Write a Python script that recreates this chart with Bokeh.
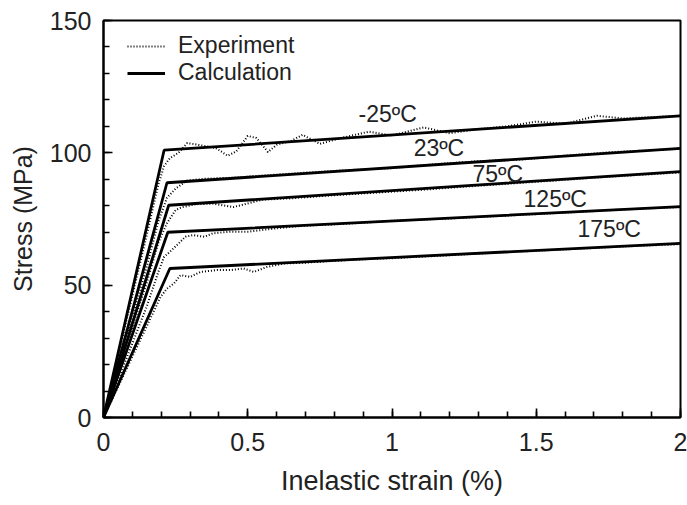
from bokeh.plotting import figure
from bokeh.models import Range1d, SingleIntervalTicker, Legend, LegendItem, Label
from bokeh.embed import file_html
from bokeh.resources import INLINE

# ---------------- data ----------------
temps = ["-25ºC", "23ºC", "75ºC", "125ºC", "175ºC"]

# calculation: bilinear (origin -> yield knee -> end at 2 %)
calc_x_m25 = [0, 0.21, 2.0]
calc_y_m25 = [0, 101.0, 114.0]
calc_x_23 = [0, 0.22, 2.0]
calc_y_23 = [0, 88.7, 101.7]
calc_x_75 = [0, 0.226, 2.0]
calc_y_75 = [0, 80.2, 92.9]
calc_x_125 = [0, 0.223, 2.0]
calc_y_125 = [0, 70.0, 79.7]
calc_x_175 = [0, 0.23, 2.0]
calc_y_175 = [0, 56.3, 65.8]

# experiment
exp_x_m25 = [0, 0.05, 0.10, 0.15, 0.19, 0.21, 0.23, 0.26, 0.29, 0.33, 0.39, 0.43, 0.46,
             0.50, 0.53, 0.57, 0.60, 0.65, 0.69, 0.75, 0.82, 0.92, 1.0, 1.11, 1.2, 1.3,
             1.4, 1.5, 1.6, 1.71, 1.8, 1.9, 2.0]
exp_y_m25 = [0, 23, 46, 69, 88, 95, 98, 100, 103.7, 103, 101.8, 98.9, 100.5,
             106.4, 105.6, 100.3, 103, 104.5, 106.8, 103.4, 105.5, 108, 106.5, 109.6, 107.4, 109,
             110, 111.8, 111, 114, 113, 113.5, 114]
exp_x_23 = [0, 0.05, 0.10, 0.15, 0.19, 0.22, 0.25, 0.29, 0.35, 0.45, 0.55, 0.7, 0.85, 1.0,
            1.15, 1.3, 1.45, 1.6, 1.75, 1.9, 2.0]
exp_y_23 = [0, 19, 38, 57, 74, 83, 86.5, 89.5, 90.2, 90.6, 91.4, 92.5, 93.5, 94.2,
            95.7, 96.8, 97.5, 98.9, 100.2, 101, 101.5]
exp_x_75 = [0, 0.05, 0.10, 0.15, 0.19, 0.22, 0.25, 0.27, 0.32, 0.38, 0.45, 0.55, 0.65, 0.8,
            0.95, 1.1, 1.25, 1.4, 1.55, 1.7, 1.85, 2.0]
exp_y_75 = [0, 17, 34, 51, 66, 73.4, 78.4, 79.4, 80.6, 80.8, 79.5, 82.3, 82.8, 84.0,
            85.0, 86.0, 87.2, 88.3, 89.4, 90.6, 91.6, 92.6]
exp_x_125 = [0, 0.05, 0.10, 0.15, 0.19, 0.21, 0.23, 0.255, 0.284, 0.31, 0.35, 0.38, 0.44,
             0.5, 0.6, 0.7, 0.8, 0.9, 1.0, 1.2, 1.4, 1.6, 1.8, 2.0]
exp_y_125 = [0, 14, 28, 42, 55, 60.7, 62.6, 65.2, 68.3, 68.9, 68.3, 69.6, 70.2,
             70.2, 71.5, 72.5, 73.0, 73.6, 74.3, 75.2, 76.3, 77.4, 78.6, 79.5]
exp_x_175 = [0, 0.05, 0.10, 0.15, 0.198, 0.22, 0.244, 0.267, 0.30, 0.336, 0.394, 0.44, 0.486,
             0.521, 0.567, 0.625, 0.7, 0.8, 0.9, 1.0, 1.2, 1.4, 1.6, 1.8, 2.0]
exp_y_175 = [0, 11.5, 23, 34.5, 45.6, 48.7, 50.6, 53.8, 53.1, 55, 55.7, 55.7, 56.3,
             55, 56.9, 58.2, 58.5, 59.2, 59.8, 60.2, 61.3, 62.5, 63.5, 64.6, 65.5]

# temperature label anchors (data coordinates)
label_x = [0.884, 1.075, 1.279, 1.456, 1.643]
label_y = [114.6, 101.7, 92.0, 82.6, 71.2]

x_ticks = [0, 0.5, 1, 1.5, 2]
x_tick_labels = ["0", "0.5", "1", "1.5", "2"]

calc_x = [calc_x_m25, calc_x_23, calc_x_75, calc_x_125, calc_x_175]
calc_y = [calc_y_m25, calc_y_23, calc_y_75, calc_y_125, calc_y_175]
exp_x = [exp_x_m25, exp_x_23, exp_x_75, exp_x_125, exp_x_175]
exp_y = [exp_y_m25, exp_y_23, exp_y_75, exp_y_125, exp_y_175]

FONT = "Liberation Sans"

p = figure(width=687, height=505, output_backend="svg", toolbar_location=None,
           x_range=Range1d(0, 2), y_range=Range1d(0, 150),
           min_border_left=103, min_border_right=7, min_border_top=20, min_border_bottom=88)
p.background_fill_color = "white"
p.border_fill_color = "white"
p.outline_line_color = "black"
p.outline_line_width = 2
p.xgrid.visible = False
p.ygrid.visible = False

exp_renderers = []
calc_renderers = []
for ex, ey in zip(exp_x, exp_y):
    r = p.line(ex, ey, line_color="black", line_width=2, line_dash="1 2")
    exp_renderers.append(r)
for cx, cy in zip(calc_x, calc_y):
    r = p.line(cx, cy, line_color="black", line_width=2.8)
    calc_renderers.append(r)

for t, lx, ly in zip(temps, label_x, label_y):
    p.add_layout(Label(x=lx, y=ly, text=t, text_font=FONT, text_font_size="23px",
                       text_color="#222222", text_align="left", text_baseline="middle"))

# axes
p.xaxis.ticker = SingleIntervalTicker(interval=0.5, num_minor_ticks=5)
p.yaxis.ticker = SingleIntervalTicker(interval=50, num_minor_ticks=5)
p.xaxis.major_label_overrides = {k: v for k, v in zip(x_ticks, x_tick_labels)}
p.xaxis.axis_label = "Inelastic strain (%)"
p.yaxis.axis_label = "Stress (MPa)"
for ax in (p.xaxis[0], p.yaxis[0]):
    ax.axis_line_width = 2
    ax.axis_line_color = "black"
    ax.major_tick_in = 9
    ax.major_tick_out = 0
    ax.minor_tick_in = 6
    ax.minor_tick_out = 0
    ax.major_tick_line_width = 1.6
    ax.minor_tick_line_width = 1.6
    ax.major_label_text_font = FONT
    ax.major_label_text_font_size = "25px"
    ax.major_label_text_color = "#222222"
    ax.axis_label_text_font = FONT
    ax.axis_label_text_font_style = "normal"
    ax.axis_label_text_color = "#222222"
p.xaxis.axis_label_text_font_size = "27px"
p.yaxis.axis_label_text_font_size = "25px"
p.xaxis.major_label_standoff = 15
p.xaxis.axis_label_standoff = 12
p.yaxis.major_label_standoff = 12
p.yaxis.axis_label_standoff = 10

legend = Legend(items=[LegendItem(label="Experiment", renderers=[exp_renderers[0]]),
                       LegendItem(label="Calculation", renderers=[calc_renderers[0]])],
                location=(24, 331), padding=0, margin=0, spacing=0,
                glyph_width=38, glyph_height=24, label_height=24, label_standoff=13,
                label_text_font=FONT, label_text_font_size="23px", label_text_color="#222222",
                border_line_color=None, background_fill_alpha=0)
p.add_layout(legend)

open("out.html", "w").write(file_html(p, INLINE))
